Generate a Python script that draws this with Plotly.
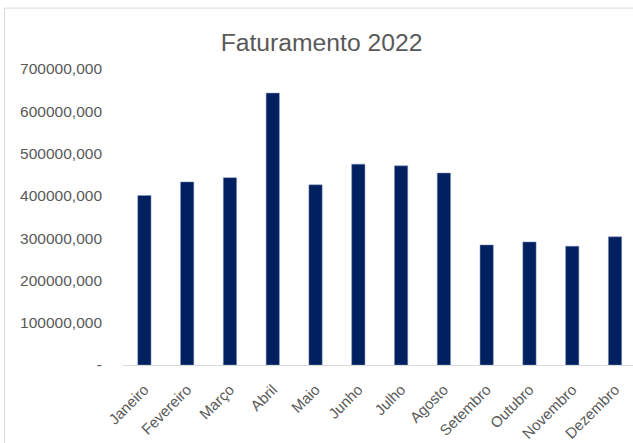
import plotly.graph_objects as go

months = ["Janeiro", "Fevereiro", "Março", "Abril", "Maio", "Junho",
          "Julho", "Agosto", "Setembro", "Outubro", "Novembro", "Dezembro"]
revenue = [401000, 433000, 443000, 643000, 426000, 475000,
           471000, 454000, 284000, 291000, 281000, 303000]
y_tick_values = [0, 100000, 200000, 300000, 400000, 500000, 600000, 700000]
y_tick_labels = ["-", "100000,000", "200000,000", "300000,000", "400000,000",
                 "500000,000", "600000,000", "700000,000"]
title_text = "Faturamento 2022"

FONT = "Liberation Sans"
GRAY = "#595959"

fig = go.Figure()
fig.add_trace(go.Bar(
    x=list(range(len(months))),
    y=revenue,
    marker=dict(color="#002060", line=dict(color="#8090b8", width=0.5)),
    hoverinfo="skip",
))

fig.update_layout(
    width=633, height=443,
    margin=dict(l=123, r=0, t=69, b=78),
    paper_bgcolor="white", plot_bgcolor="white",
    bargap=0.69,
    showlegend=False,
    title=dict(text=title_text, x=0.508, xref="container", xanchor="center",
               y=1 - 42 / 443, yref="container", yanchor="middle",
               font=dict(family=FONT, size=24.7, color=GRAY)),
    xaxis=dict(
        tickmode="array", tickvals=list(range(len(months))), ticktext=months,
        range=[-0.5, 11.42], tickangle=-45,
        showgrid=False, zeroline=False,
        showline=True, linecolor="#d9d9d9", linewidth=1,
        ticks="", ticklabelstandoff=9,
        tickfont=dict(family=FONT, size=15, color=GRAY),
    ),
    yaxis=dict(
        tickmode="array", tickvals=y_tick_values, ticktext=y_tick_labels,
        range=[0, 700000], showgrid=False, zeroline=False, showline=False,
        ticks="", ticklabelstandoff=20,
        tickfont=dict(family=FONT, size=15.5, color=GRAY),
    ),
    shapes=[dict(type="rect", xref="paper", yref="paper",
                 x0=(4.5 - 123) / 510, x1=1.05,
                 y0=-0.3, y1=(365.3 - 8) / 296.3,
                 line=dict(color="#d9d9d9", width=1), fillcolor="rgba(0,0,0,0)",
                 layer="below")],
)

fig.write_html("out.html",
               config={"displayModeBar": False, "staticPlot": True},
               post_script="document.body.style.margin='0';document.body.style.overflow='hidden';")
